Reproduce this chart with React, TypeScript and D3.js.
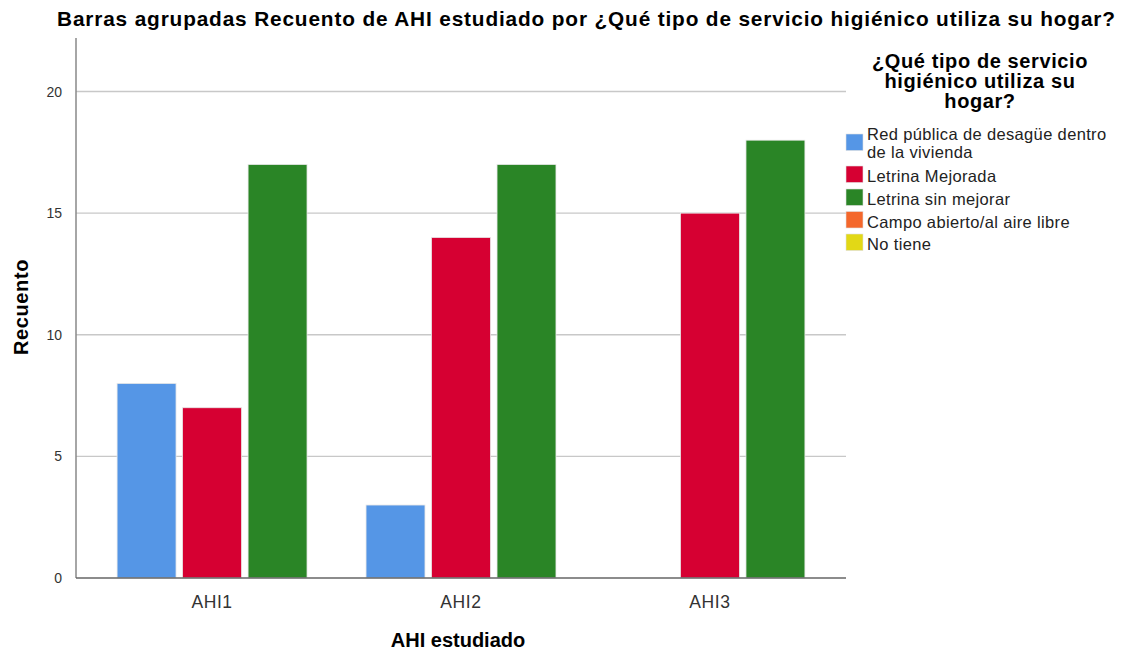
import React from 'react';
import * as d3 from 'd3';

const categories = ['AHI1', 'AHI2', 'AHI3'];
const seriesNames = [
  'Red pública de desagüe dentro de la vivienda',
  'Letrina Mejorada',
  'Letrina sin mejorar',
  'Campo abierto/al aire libre',
  'No tiene',
];
const legendLines = [
  ['Red pública de desagüe dentro', 'de la vivienda'],
  ['Letrina Mejorada'],
  ['Letrina sin mejorar'],
  ['Campo abierto/al aire libre'],
  ['No tiene'],
];
const colors = ['#5596e6', '#d60032', '#2a8526', '#f4672b', '#e2d816'];
// counts per category, in series order (0 = no bar)
const redPublica = [8, 3, 0];
const letrinaMejorada = [7, 14, 15];
const letrinaSinMejorar = [17, 17, 18];
const campoAbierto = [0, 0, 0];
const noTiene = [0, 0, 0];
const yTicks = [0, 5, 10, 15, 20];

const values = [redPublica, letrinaMejorada, letrinaSinMejorar, campoAbierto, noTiene];

const W = 1125, H = 655;
const left = 76, right = 846, top = 38, bottom = 578;
const font = 'Arial, "Liberation Sans", sans-serif';

export default function App() {
  const x = d3.scaleBand().domain(categories).range([left, right]).paddingInner(0.237).paddingOuter(0.165);
  const y = d3.scaleLinear().domain([0, 22.2]).range([bottom, top]);

  // only series with counts in a category get a slot
  const bars: { key: string; x: number; w: number; v: number; c: string }[] = [];
  categories.forEach((cat, ci) => {
    const present = seriesNames.map((_, si) => si).filter(si => values[si][ci] > 0);
    const slotCount = 3;
    const slots = d3.range(slotCount).map(String);
    const sub = d3.scaleBand().domain(slots).range([0, x.bandwidth()]).paddingInner(0.1);
    const offset = slotCount - present.length;
    present.forEach((si, k) => {
      bars.push({
        key: cat + si,
        x: (x(cat) as number) + (sub(String(k + offset)) as number),
        w: sub.bandwidth(),
        v: values[si][ci],
        c: colors[si],
      });
    });
  });

  const swatchTop = [134, 166, 189, 211.5, 234];

  return (
    <svg width={W} height={H} style={{ position: 'absolute', left: 0, top: 0 }} fontFamily={font}>
      <rect width={W} height={H} fill="#fff" />
      <text x={57} y={26} fontSize={20.8} fontWeight="bold" fill="#000" textLength={1058} lengthAdjust="spacing">
        Barras agrupadas Recuento de AHI estudiado por ¿Qué tipo de servicio higiénico utiliza su hogar?
      </text>
      {yTicks.filter(t => t > 0).map(t => (
        <line key={t} x1={left} x2={right} y1={y(t)} y2={y(t)} stroke="#c8c8c8" strokeWidth={1.3} />
      ))}
      {yTicks.map(t => (
        <text key={t} x={left - 14} y={y(t)} dy="0.36em" textAnchor="end" fontSize={14} fill="#333">{t}</text>
      ))}
      {bars.map(b => (
        <rect key={b.key} x={b.x} y={y(b.v)} width={b.w} height={y(0) - y(b.v)} fill={b.c} stroke="#e8e8e8" strokeWidth={0.8} />
      ))}
      <line x1={left} x2={left} y1={top} y2={bottom} stroke="#888" strokeWidth={1.5} />
      <line x1={left} x2={right} y1={bottom} y2={bottom} stroke="#666" strokeWidth={1.5} />
      {categories.map(c => (
        <text key={c} x={(x(c) as number) + x.bandwidth() / 2} y={608} textAnchor="middle" fontSize={17.5} letterSpacing={0.6} fill="#333">{c}</text>
      ))}
      <text x={458} y={647} textAnchor="middle" fontSize={20} fontWeight="bold">AHI estudiado</text>
      <text transform={`translate(28,307) rotate(-90)`} textAnchor="middle" fontSize={20} letterSpacing={0.6} fontWeight="bold">Recuento</text>
      <g fontSize={20} fontWeight="bold" textAnchor="middle" letterSpacing={0.6}>
        <text x={980} y={68}>¿Qué tipo de servicio</text>
        <text x={980} y={88}>higiénico utiliza su</text>
        <text x={980} y={108}>hogar?</text>
      </g>
      {seriesNames.map((s, i) => (
        <g key={s}>
          <rect x={846} y={swatchTop[i]} width={17} height={16.5} fill={colors[i]} stroke="#e0e0e0" strokeWidth={0.6} />
          {legendLines[i].map((ln, j) => (
            <text key={j} x={867} y={swatchTop[i] + (legendLines[i].length > 1 ? 6 + j * 18 : 16)} fontSize={16.5} letterSpacing={0.35} fill="#222">{ln}</text>
          ))}
        </g>
      ))}
    </svg>
  );
}
